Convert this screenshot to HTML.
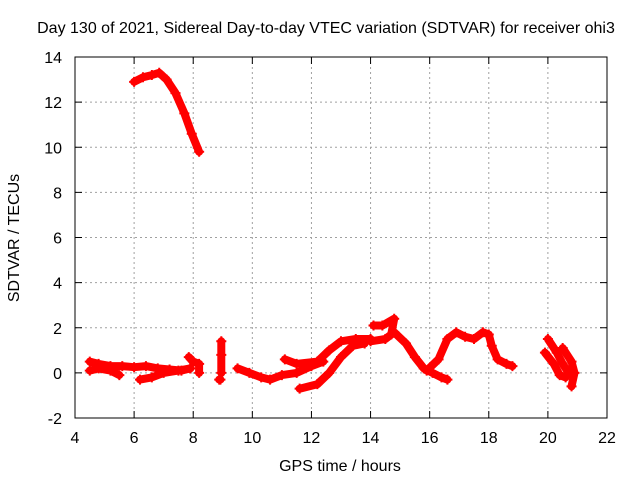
<!DOCTYPE html>
<html><head><meta charset="utf-8"><style>
body{margin:0;background:#fff}
svg{font-family:"Liberation Sans",sans-serif;font-size:16px}
</style></head><body>
<svg id="chart" width="640" height="480">
<text x="326" y="33" text-anchor="middle">Day 130 of 2021, Sidereal Day-to-day VTEC variation (SDTVAR) for receiver ohi3</text>
<text transform="translate(19,238) rotate(-90)" text-anchor="middle">SDTVAR / TECUs</text>
<text x="340" y="471" text-anchor="middle">GPS time / hours</text>
<g id="grid"></g>
<g id="axes"></g>
<g id="series"></g>
<rect x="75" y="57" width="532" height="361" fill="none" stroke="#000"/>
</svg>
<script>
const xTicks=[4,6,8,10,12,14,16,18,20,22];
const yTicks=[-2,0,2,4,6,8,10,12,14];
const trackTop=[[6.0,12.9],[6.3,13.1],[6.6,13.2],[6.85,13.3],[7.1,13.0],[7.4,12.4],[7.7,11.5],[7.95,10.6],[8.2,9.8]];
const trackEarly=[[4.5,0.5],[4.8,0.4],[5.2,0.3],[5.6,0.3],[6.0,0.25],[6.4,0.3],[6.8,0.2],[7.2,0.15],[7.6,0.1],[7.9,0.2]];
const trackEarlyA=[[4.5,0.1],[4.8,0.2],[5.2,0.1],[5.5,-0.1]];
const trackEarlyLow=[[6.2,-0.3],[6.6,-0.2],[7.0,0.0],[7.5,0.1],[7.9,0.2]];
const trackSpike8=[[7.85,0.7],[8.0,0.5],[8.2,0.4],[8.2,0.0]];
const track9=[[8.95,1.4],[8.95,0.8],[8.95,0.0]];
const track9b=[[8.88,-0.3],[8.92,-0.3]];
const trackMid=[[9.5,0.2],[9.9,0.0],[10.3,-0.2],[10.6,-0.3],[11.0,-0.1],[11.5,0.0],[12.0,0.3],[12.4,0.5]];
const trackUpper=[[11.1,0.6],[11.5,0.4],[12.2,0.5],[12.6,1.0],[13.0,1.4],[13.5,1.5],[14.0,1.5]];
const trackLower=[[11.6,-0.7],[12.2,-0.5],[12.6,0.0],[13.0,0.7],[13.4,1.2],[13.8,1.3]];
const trackWave=[[14.0,1.4],[14.5,1.5],[14.8,1.8],[15.2,1.3],[15.5,0.7],[15.8,0.2],[16.1,0.0],[16.4,-0.2],[16.6,-0.3]];
const trackSpikes=[[14.1,2.1],[14.4,2.1],[14.8,2.4],[14.7,1.7]];
const trackRise=[[15.9,0.1],[16.3,0.6],[16.6,1.5],[16.9,1.8],[17.2,1.6],[17.5,1.5],[17.8,1.8],[18.0,1.7],[18.1,1.2],[18.3,0.6],[18.6,0.4],[18.8,0.3]];
const track20a=[[20.0,1.5],[20.3,0.9],[20.5,0.4],[20.7,0.0]];
const track20b=[[19.9,0.9],[20.2,0.4],[20.4,-0.1],[20.6,-0.2]];
const track20c=[[20.5,1.1],[20.8,0.5],[20.9,0.0],[20.8,-0.6]];
const tracks=[trackTop,trackEarly,trackEarlyA,trackEarlyLow,trackSpike8,track9,track9b,trackMid,trackUpper,trackLower,trackWave,trackSpikes,trackRise,track20a,track20b,track20c];
const X0=75,X1=607,Y0=418,Y1=57;
function xs(h){return X0+(h-4)/(22-4)*(X1-X0);}
function ys(v){return Y0-(v+2)/(14+2)*(Y0-Y1);}
const NS="http://www.w3.org/2000/svg";
const grid=document.getElementById('grid'),axes=document.getElementById('axes'),ser=document.getElementById('series');
function mk(tag,attrs,parent){const e=document.createElementNS(NS,tag);for(const k in attrs)e.setAttribute(k,attrs[k]);parent.appendChild(e);return e;}
xTicks.forEach(t=>{const x=xs(t);
 if(t>4&&t<22){const g=mk('line',{x1:x,x2:x,y1:Y1,y2:Y0,stroke:'#a0a0a0','stroke-dasharray':'2,3'},grid);
 
 }
 mk('line',{x1:x,x2:x,y1:Y0,y2:Y0-7,stroke:'#000'},axes);
 mk('line',{x1:x,x2:x,y1:Y1,y2:Y1+7,stroke:'#000'},axes);
 const tx=mk('text',{x:x,y:443,'text-anchor':'middle'},axes);tx.textContent=t;
 
 
});
yTicks.forEach(t=>{const y=ys(t);
 if(t>-2&&t<14){const g=mk('line',{x1:X0,x2:X1,y1:y,y2:y,stroke:'#a0a0a0','stroke-dasharray':'2,3'},grid);
 
 }
 mk('line',{x1:X0,x2:X0+7,y1:y,y2:y,stroke:'#000'},axes);
 mk('line',{x1:X1,x2:X1-7,y1:y,y2:y,stroke:'#000'},axes);
 const tx=mk('text',{x:62,y:y+6,'text-anchor':'end'},axes);tx.textContent=t;
 
 
});
tracks.forEach(tr=>{
 const pts=tr.map(p=>xs(p[0]).toFixed(1)+','+ys(p[1]).toFixed(1)).join(' ');
 const pl=mk('polyline',{points:pts,fill:'none',stroke:'#f00','stroke-width':8,'stroke-linecap':'round','stroke-linejoin':'round'},ser);
 
 
 tr.forEach(p=>{const x=xs(p[0]),y=ys(p[1]);
  const m=mk('path',{d:`M${x-5},${y}h10M${x},${y-5}v10`,stroke:'#f00','stroke-width':2},ser);
  
  
 });
});
</script>
</body></html>
